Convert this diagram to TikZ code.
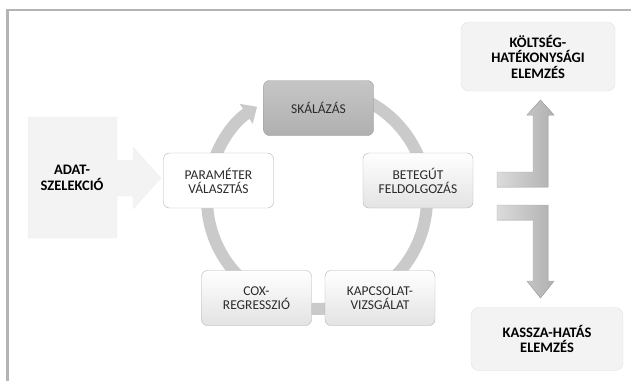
\documentclass[tikz,border=0pt]{standalone}
\usepackage{fontspec}
\setmainfont{Carlito}
\usetikzlibrary{arrows.meta}
\definecolor{cadre}{HTML}{B4B4B4}
\definecolor{anneau}{HTML}{CACACA}
\definecolor{fondclair}{HTML}{F3F3F3}
\definecolor{texte}{HTML}{2B2B2B}
\begin{document}
\begin{tikzpicture}[x=1pt,y=-1pt]
			% Styles (MODIFIABLES)
			\tikzstyle{boite}=[draw=gray!60, rounded corners=6pt, minimum width=110pt, minimum height=55pt, align=center, inner sep=2pt, text=texte, font=\fontsize{13.5}{14}\selectfont]
			\tikzstyle{blanche}=[boite, fill=white]
			\tikzstyle{claire}=[boite, top color=white, bottom color=gray!22]
			\tikzstyle{foncee}=[boite, draw=gray!80, top color=gray!45, bottom color=gray!62]
			\tikzstyle{resultat}=[draw=gray!25, fill=fondclair, rounded corners=8pt, align=center, text=black, font=\bfseries\fontsize{14.5}{15.5}\selectfont]
			\tikzstyle{fleche3d}=[draw=gray!65, left color=gray!28, right color=gray!62]
			\tikzstyle{cycle}=[anneau, line width=12pt, -{Triangle[width=23pt,length=13pt]}]
			% Cadre
			\useasboundingbox (0,0) rectangle (631,381);
			\draw[cadre, line width=2.5pt] (631,10) -| (7.5,381);
			% Anneau
			\coordinate (centre) at (317,199);
			\draw[cycle] (centre) ++(-80:110) arc[start angle=-80, end angle=237, radius=110];
			% Entree
			\fill[fondclair, draw=gray!12] (28,117) -- (117,117) -- (117,160) -- (133,160) -- (133,147)
				-- (161,178) -- (133,209) -- (133,196) -- (117,196) -- (117,238) -- (28,238) -- cycle;
			\node[align=center, font=\bfseries\fontsize{14.5}{15.5}\selectfont] (adat) at (72,178) {ADAT-\\SZELEKCIÓ};
			% Noeuds du cycle
			\node[blanche] (param) at (218.5,180.5) {PARAMÉTER\\VÁLASZTÁS};
			\node[foncee] (skala) at (318.5,108) {SKÁLÁZÁS};
			\node[claire] (beteg) at (418,180.5) {BETEGÚT\\FELDOLGOZÁS};
			\node[claire] (kapcs) at (380,298) {KAPCSOLAT-\\VIZSGÁLAT};
			\node[claire] (cox) at (256.5,298) {COX-\\REGRESSZIÓ};
			% Resultats
			\node[resultat, minimum width=154pt, minimum height=69pt] (koltseg) at (538,56.5) {KÖLTSÉG-\\HATÉKONYSÁGI\\ELEMZÉS};
			\node[resultat, minimum width=152pt, minimum height=63pt] (kassza) at (547,339) {KASSZA-HATÁS\\ELEMZÉS};
			% Fleches coudees
			\fill[fleche3d] (497,172) -- (533,172) -- (533,115) -- (527,115) -- (540.5,100) -- (554,115)
				-- (548,115) -- (548,187) -- (497,187) -- cycle;
			\fill[fleche3d] (497,205) -- (548,205) -- (548,281) -- (554,281) -- (540.5,298) -- (527,281)
				-- (533,281) -- (533,220) -- (497,220) -- cycle;
\end{tikzpicture}
\end{document}
